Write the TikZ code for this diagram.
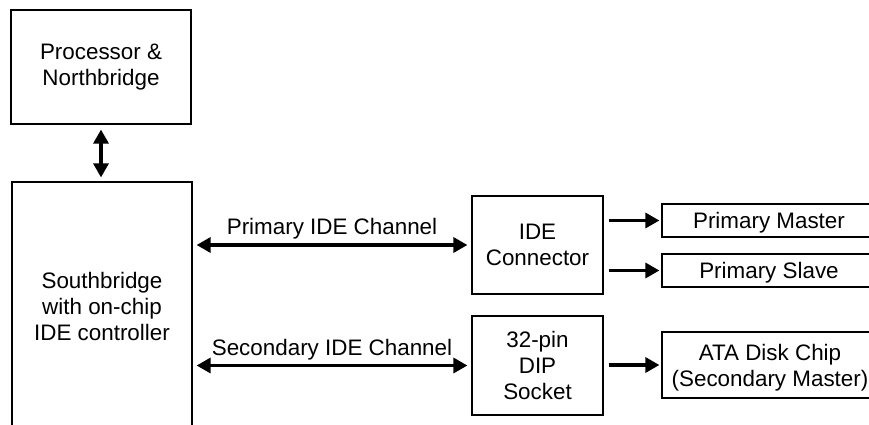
\documentclass[tikz,border=0pt]{standalone}
\usepackage{fontspec}
\setmainfont{Liberation Sans}
\usetikzlibrary{arrows.meta}

\begin{document}
\begin{tikzpicture}[x=0.5pt, y=-0.5pt, font=\fontsize{11.2}{13}\selectfont]
%% one unit is one pixel of the drawing, y runs downwards
%% boxes on the right and at the bottom run past the frame and are cut off
\tikzstyle{box}=[draw, line width=0.6pt, align=center, inner sep=0pt]
\tikzstyle{deviceBox}=[box, text depth=0pt]
\tikzstyle{link}=[line width=1.6pt, -{Triangle[length=7pt,width=7.5pt]}]
\tikzstyle{biLink}=[line width=1.6pt, {Triangle[length=7pt,width=7.5pt]}-{Triangle[length=7pt,width=7.5pt]}]
\tikzstyle{chanLabel}=[above, inner sep=2pt]
\useasboundingbox (0,0) rectangle (869,424);
\clip (0,0) rectangle (869,424);
%% TikZ-figure elements %%
\node[box, minimum width=90pt, minimum height=57pt] at (101,67) (Processor) {Processor \&\\Northbridge};
\node[box, minimum width=90pt, minimum height=124pt] at (102,306) (Southbridge) {Southbridge\\with on-chip\\IDE controller};
\node[box, minimum width=65.5pt, minimum height=49pt] at (537.5,245) (IDE_Connector) {IDE\\Connector};
\node[box, minimum width=65.5pt, minimum height=49.5pt] at (537.5,365.5) (DIP_Socket) {32-pin\\DIP\\Socket};
\node[deviceBox, minimum width=107pt, minimum height=16.5pt] at (769,220.5) (Primary_Master) {Primary Master};
\node[deviceBox, minimum width=107pt, minimum height=16.5pt] at (769,270.5) (Primary_Slave) {Primary Slave};
\node[deviceBox, minimum width=108pt, minimum height=33pt] at (770,365) (ATA_Chip) {ATA Disk Chip\\(Secondary Master)};
%% bus between processor and southbridge
\draw[biLink, shorten <=2.5pt, shorten >=2pt] (Processor.south) -- (Processor.south |- Southbridge.north);
%% IDE channels
\draw[biLink, shorten <=2pt, shorten >=2pt] (IDE_Connector.west -| Southbridge.east) -- (IDE_Connector.west)
  node[chanLabel, midway] {Primary IDE Channel};
\draw[biLink, shorten <=2pt, shorten >=2pt] (DIP_Socket.west -| Southbridge.east) -- (DIP_Socket.west)
  node[chanLabel, midway] {Secondary IDE Channel};
%% devices
\draw[link, shorten <=2.5pt, shorten >=1pt] (IDE_Connector.east |- Primary_Master.west) -- (Primary_Master.west);
\draw[link, shorten <=2.5pt, shorten >=1pt] (IDE_Connector.east |- Primary_Slave.west) -- (Primary_Slave.west);
\draw[link, shorten <=2.5pt, shorten >=1pt] (DIP_Socket.east |- ATA_Chip.west) -- (ATA_Chip.west);
\end{tikzpicture}
\end{document}
